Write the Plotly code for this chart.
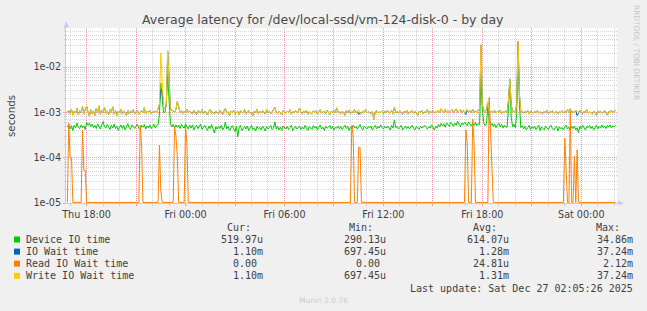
import pandas as pd
import plotly.graph_objects as go

TITLE = "Average latency for /dev/local-ssd/vm-124-disk-0 - by day"
Y_TITLE = "seconds"
SIDE_TEXT = "RRDTOOL / TOBI OETIKER"
FOOTER = "Munin 2.0.76"
LAST_UPDATE = "Last update: Sat Dec 27 02:05:26 2025"

# 5-minute samples starting at START (values in microseconds)
START = "2025-12-25 16:50"
STEP = "5min"

DEVICE_IO_US = [
    470, 540, 430, 510, 400, 520, 455, 580, 470, 440,
    530, 460, 510, 420, 600, 520, 580, 490, 550, 460,
    520, 440, 560, 470, 430, 530, 630, 480, 450, 540,
    470, 420, 520, 450, 550, 440, 500, 400, 470, 530,
    440, 520, 410, 490, 560, 450, 420, 530, 470, 440,
    500, 550, 450, 410, 520, 470, 540, 430, 500, 450,
    530, 440, 490, 550, 450, 510, 530, 900, 4450, 2000,
    1000, 1000, 1500, 6600, 1500, 560, 480, 540, 450, 530,
    470, 520, 440, 550, 480, 450, 560, 470, 430, 520,
    450, 530, 410, 480, 520, 440, 500, 550, 420, 480,
    520, 450, 400, 500, 440, 540, 450, 350, 480, 430,
    500, 440, 520, 410, 460, 610, 430, 490, 400, 460,
    510, 440, 380, 490, 290, 460, 520, 400, 450, 490,
    430, 500, 400, 470, 520, 420, 450, 390, 490, 440,
    470, 410, 500, 450, 390, 490, 430, 470, 520, 420,
    450, 620, 430, 490, 410, 470, 400, 500, 450, 430,
    490, 420, 470, 520, 400, 450, 490, 430, 470, 500,
    420, 470, 430, 520, 450, 400, 490, 460, 420, 510,
    450, 490, 410, 470, 530, 430, 470, 400, 490, 450,
    470, 520, 430, 490, 410, 470, 450, 500, 430, 490,
    420, 470, 520, 440, 490, 400, 470, 430, 520, 450,
    490, 430, 470, 540, 450, 410, 500, 460, 430, 490,
    450, 500, 410, 470, 520, 430, 490, 450, 530, 460,
    430, 490, 450, 500, 460, 410, 520, 450, 680, 460,
    490, 430, 470, 520, 410, 470, 500, 440, 490, 430,
    470, 520, 440, 410, 490, 460, 420, 500, 450, 490,
    520, 460, 430, 490, 450, 530, 460, 410, 490, 450,
    540, 480, 570, 500, 560, 470, 590, 520, 490, 600,
    560, 490, 580, 520, 640, 550, 490, 580, 530, 610,
    570, 510, 620, 540, 500, 580, 520, 600, 510, 560,
    540, 5700, 1200, 600, 510, 570, 1300, 700, 510, 570,
    490, 550, 460, 530, 580, 480, 550, 450, 520, 480,
    470, 1200, 4800, 800, 480, 550, 460, 900, 34860, 1500,
    460, 510, 430, 490, 410, 460, 520, 420, 480, 440,
    500, 420, 460, 520, 400, 480, 440, 410, 500, 450,
    420, 480, 520, 440, 410, 460, 500, 390, 480, 440,
    460, 410, 490, 520, 430, 470, 400, 490, 440, 500,
    410, 460, 360, 490, 430, 520, 450, 410, 490, 460,
    520, 440, 490, 410, 460, 520, 430, 490, 450, 530,
    460, 500, 440, 520, 470, 530, 450, 510, 480, 520,
]

IO_WAIT_US = [
    1000, 1120, 920, 1180, 870, 1060, 970, 1230, 880, 1090,
    1000, 1350, 930, 1120, 1380, 1030, 830, 1150, 940, 1080,
    860, 1220, 1000, 1400, 910, 1120, 1000, 1280, 960, 1080,
    890, 1150, 1000, 1330, 940, 1090, 850, 1060, 980, 1180,
    920, 1080, 1000, 850, 1120, 940, 1060, 1000, 1150, 920,
    1030, 1120, 900, 1000, 1090, 970, 1280, 920, 1060, 1000,
    1120, 940, 1030, 1000, 1080, 970, 1150, 1500, 3200, 3000,
    1300, 1200, 1500, 22800, 6000, 1200, 1100, 1080, 1000, 1150,
    1750, 1200, 1000, 1090, 940, 1060, 1000, 1180, 970, 1080,
    1000, 920, 1120, 1030, 900, 1090, 1000, 970, 1150, 940,
    1060, 1000, 880, 1090, 1150, 970, 1030, 920, 1060, 1000,
    940, 1120, 1000, 900, 1090, 1220, 970, 1030, 860, 1080,
    1000, 1120, 940, 1000, 1060, 880, 1090, 1000, 970, 1150,
    920, 1030, 1090, 970, 1000, 840, 1060, 1000, 1180, 940,
    1050, 970, 1090, 1000, 920, 1150, 1000, 1060, 940, 1030,
    1120, 1280, 1000, 940, 1060, 1000, 880, 1090, 1000, 970,
    1060, 1000, 1150, 920, 1030, 1000, 1090, 970, 1060, 1250,
    1000, 940, 1060, 1000, 1120, 910, 1030, 1000, 940, 1080,
    1000, 1090, 920, 1030, 1150, 970, 1000, 1060, 940, 1120,
    1000, 910, 1060, 1000, 1090, 970, 1260, 1000, 1030, 940,
    1060, 1000, 860, 1090, 1000, 1120, 940, 1030, 1000, 1150,
    970, 1060, 900, 1000, 940, 1080, 1000, 1150, 970, 1030,
    1000, 940, 1060, 700, 1000, 1090, 970, 1030, 1000, 1080,
    940, 1060, 1000, 1120, 970, 1000, 1090, 940, 1280, 1000,
    1030, 970, 1090, 1000, 910, 1060, 1000, 1120, 940, 1030,
    1000, 1090, 970, 1030, 1000, 860, 1060, 1000, 1120, 940,
    1030, 1000, 1150, 940, 1060, 1000, 1090, 970, 1030, 1000,
    1120, 1000, 1200, 1060, 1000, 1150, 970, 1090, 1000, 1060,
    1150, 1000, 1090, 1200, 1000, 1060, 1150, 970, 1090, 1000,
    900, 1150, 1000, 1090, 1000, 1180, 1000, 1080, 970, 1150,
    1100, 31000, 1500, 1080, 1000, 1200, 1700, 1120, 1000, 1080,
    1000, 1090, 970, 1060, 1000, 1120, 940, 1030, 1000, 1080,
    1000, 1800, 5500, 1500, 1000, 1080, 970, 1500, 37240, 2500,
    1000, 1080, 970, 1030, 1000, 1090, 940, 1060, 1000, 970,
    1060, 1000, 1090, 970, 1030, 1000, 940, 1060, 1000, 1120,
    940, 1030, 1000, 1090, 970, 1000, 1060, 940, 1030, 1000,
    1090, 970, 1060, 1000, 1150, 1000, 1200, 970, 1060, 1000,
    1090, 850, 1000, 1120, 1000, 940, 1060, 1000, 1150, 970,
    1030, 1000, 940, 1060, 1000, 860, 1090, 1000, 1060, 970,
    1000, 1090, 1000, 870, 1060, 970, 1120, 1000, 1080, 1100,
]

WRITE_WAIT_US = [
    1000, 1120, 920, 1180, 870, 1060, 970, 1230, 880, 1090,
    1000, 1350, 930, 1120, 1380, 1030, 830, 1150, 940, 1080,
    860, 1220, 1000, 1400, 910, 1120, 1000, 1280, 960, 1080,
    890, 1150, 1000, 1330, 940, 1090, 850, 1060, 980, 1180,
    920, 1080, 1000, 850, 1120, 940, 1060, 1000, 1150, 920,
    1030, 1120, 900, 1000, 1090, 970, 1280, 920, 1060, 1000,
    1120, 940, 1030, 1000, 1080, 970, 1150, 1500, 20500, 4000,
    1300, 1200, 1500, 22800, 6000, 1200, 1100, 1080, 1000, 1150,
    1750, 1200, 1000, 1090, 940, 1060, 1000, 1180, 970, 1080,
    1000, 920, 1120, 1030, 900, 1090, 1000, 970, 1150, 940,
    1060, 1000, 880, 1090, 1150, 970, 1030, 920, 1060, 1000,
    940, 1120, 1000, 900, 1090, 1220, 970, 1030, 860, 1080,
    1000, 1120, 940, 1000, 1060, 880, 1090, 1000, 970, 1150,
    920, 1030, 1090, 970, 1000, 840, 1060, 1000, 1180, 940,
    1050, 970, 1090, 1000, 920, 1150, 1000, 1060, 940, 1030,
    1120, 1280, 1000, 940, 1060, 1000, 880, 1090, 1000, 970,
    1060, 1000, 1150, 920, 1030, 1000, 1090, 970, 1060, 1250,
    1000, 940, 1060, 1000, 1120, 910, 1030, 1000, 940, 1080,
    1000, 1090, 920, 1030, 1150, 970, 1000, 1060, 940, 1120,
    1000, 910, 1060, 1000, 1090, 970, 1260, 1000, 1030, 940,
    1060, 1000, 860, 1090, 1000, 1120, 940, 1030, 1000, 1150,
    970, 1060, 1150, 1000, 940, 1080, 1000, 1150, 970, 1030,
    1000, 940, 1060, 700, 1000, 1090, 970, 1030, 1000, 1080,
    940, 1060, 1000, 1120, 970, 1000, 1090, 940, 1280, 1000,
    1030, 970, 1090, 1000, 910, 1060, 1000, 1120, 940, 1030,
    1000, 1090, 970, 1030, 1000, 860, 1060, 1000, 1120, 940,
    1030, 1000, 1150, 940, 1060, 1000, 1090, 970, 1030, 1000,
    1120, 1000, 1200, 1060, 1000, 1150, 970, 1090, 1000, 1060,
    1150, 1000, 1090, 1200, 1000, 1060, 1150, 970, 1090, 1000,
    1060, 1150, 1000, 1090, 1000, 1180, 1000, 1080, 970, 1150,
    1100, 31000, 1500, 1080, 1000, 1200, 1700, 1120, 1000, 1080,
    1000, 1090, 970, 1060, 1000, 1120, 940, 1030, 1000, 1080,
    1000, 1800, 5500, 1500, 1000, 1080, 970, 1500, 37240, 2500,
    1000, 1080, 970, 1030, 1000, 1090, 940, 1060, 1000, 970,
    1060, 1000, 1090, 970, 1030, 1000, 940, 1060, 1000, 1120,
    940, 1030, 1000, 1090, 970, 1000, 1060, 940, 1030, 1000,
    1090, 970, 1060, 1000, 1150, 1000, 1200, 970, 1060, 1000,
    1090, 1080, 1000, 1120, 1000, 940, 1060, 1000, 1150, 970,
    1030, 1000, 940, 1060, 1000, 860, 1090, 1000, 1060, 970,
    1000, 1090, 1000, 870, 1060, 970, 1120, 1000, 1080, 1100,
]

# Read IO wait: 0.00 at every 5-minute sample except these spikes
READ_SPIKE_TIMES = [
    "2025-12-25 16:55", "2025-12-25 17:00", "2025-12-25 17:05",
    "2025-12-25 17:45", "2025-12-25 17:50", "2025-12-25 17:55",
    "2025-12-25 21:15", "2025-12-25 21:20",
    "2025-12-25 22:25", "2025-12-25 22:30",
    "2025-12-25 23:20", "2025-12-25 23:25", "2025-12-25 23:30",
    "2025-12-26 00:00", "2025-12-26 00:05",
    "2025-12-26 10:05", "2025-12-26 10:10",
    "2025-12-26 10:30", "2025-12-26 10:35",
    "2025-12-26 17:00", "2025-12-26 17:05",
    "2025-12-26 17:25", "2025-12-26 17:30",
    "2025-12-26 18:25", "2025-12-26 18:30", "2025-12-26 18:35",
    "2025-12-26 23:00", "2025-12-26 23:05",
    "2025-12-26 23:20",
    "2025-12-26 23:35",
    "2025-12-26 23:45",
]
READ_SPIKE_US = [
    580, 100, 100,
    410, 53, 53,
    520, 200,
    190, 19,
    480, 300, 110,
    520, 200,
    520, 300,
    170, 170,
    410, 200,
    710, 200,
    2120, 350, 100,
    270, 50,
    1100,
    110,
    150,
]

SERIES_NAMES = ["Device IO time", "IO Wait time", "Read IO Wait time", "Write IO Wait time"]
SERIES_COLORS = ["#00CC00", "#0066B3", "#FF8000", "#FFCC00"]
STAT_HEADERS = ["Cur:", "Min:", "Avg:", "Max:"]
STATS = [
    ["519.97u", "290.13u", "614.07u", "34.86m"],
    ["1.10m", "697.45u", "1.28m", "37.24m"],
    ["0.00", "0.00", "24.81u", "2.12m"],
    ["1.10m", "697.45u", "1.31m", "37.24m"],
]

Y_TICK_VALS = [1e-5, 1e-4, 1e-3, 1e-2]
Y_TICK_TEXT = ["1e-05", "1e-04", "1e-03", "1e-02"]
Y_MINOR_VALS = [m * 10.0 ** e for e in (-5, -4, -3, -2) for m in range(2, 10)]

X_RANGE = ["2025-12-25 16:45", "2025-12-27 02:10"]
X_MAJOR_VALS = pd.date_range("2025-12-25 18:00", "2025-12-27 00:00", freq="3h")
X_LABELS = {
    "2025-12-25 18:00": "Thu 18:00",
    "2025-12-26 00:00": "Fri 00:00",
    "2025-12-26 06:00": "Fri 06:00",
    "2025-12-26 12:00": "Fri 12:00",
    "2025-12-26 18:00": "Fri 18:00",
    "2025-12-27 00:00": "Sat 00:00",
}

# ---------------------------------------------------------------- build
assert len(DEVICE_IO_US) == len(IO_WAIT_US) == len(WRITE_WAIT_US) == 400
xs = pd.date_range(START, periods=len(DEVICE_IO_US), freq=STEP)
read_map = {pd.Timestamp(t): v for t, v in zip(READ_SPIKE_TIMES, READ_SPIKE_US)}
read_us = [read_map.get(t, 0) for t in xs]

Y_FLOOR = 1.03e-5  # zero values are drawn on the bottom edge, like rrdtool
def sec(vals):
    return [max(v * 1e-6, Y_FLOOR) for v in vals]

fig = go.Figure()
for ys, name, color in zip([DEVICE_IO_US, IO_WAIT_US, read_us, WRITE_WAIT_US],
                           SERIES_NAMES, SERIES_COLORS):
    fig.add_trace(go.Scatter(
        x=xs, y=sec(ys), mode="lines", name=name,
        line=dict(color=color, width=1), hoverinfo="skip", showlegend=False,
    ))

W, H = 647, 311
PL, PR, PT, PB = 66, 617, 28, 203
def px(x):
    return (x - PL) / (PR - PL)
def py(y):
    return (PB - y) / (PB - PT)

TXT = "#404040"
MAJOR_GRID = "rgba(230,140,140,0.75)"
MINOR_GRID = "rgba(200,200,200,0.75)"
AXIS_COL = "#C8C8F0"

fig.update_layout(
    width=W, height=H, autosize=False,
    margin=dict(l=PL, r=W - PR, t=PT, b=H - PB, pad=0),
    paper_bgcolor="#F0F0F0", plot_bgcolor="#FFFFFF",
    font=dict(family="DejaVu Sans", color=TXT, size=10),
    showlegend=False,
)
fig.update_xaxes(
    type="date", range=X_RANGE,
    tickmode="array", tickvals=list(X_MAJOR_VALS),
    ticktext=[X_LABELS.get(t.strftime("%Y-%m-%d %H:%M"), "") for t in X_MAJOR_VALS],
    tickfont=dict(size=9.6, color=TXT, family="DejaVu Sans"),
    ticks="outside", ticklen=2, tickcolor=MAJOR_GRID,
    showgrid=True, gridcolor=MAJOR_GRID, griddash="1px,1px", gridwidth=1,
    minor=dict(dtick=3600000, tick0="2025-12-25 00:00", showgrid=True,
               gridcolor=MINOR_GRID, griddash="1px,1px", gridwidth=1,
               ticks="outside", ticklen=2, tickcolor=MINOR_GRID),
    showline=True, linecolor=AXIS_COL, linewidth=1, zeroline=False,
    fixedrange=True,
)
fig.update_yaxes(
    type="log", range=[-5, -5 + (PB - PT) / 45.3],
    tickmode="array", tickvals=Y_TICK_VALS, ticktext=Y_TICK_TEXT,
    tickfont=dict(size=9.6, color=TXT, family="DejaVu Sans"),
    ticks="outside", ticklen=2, tickcolor=MAJOR_GRID,
    showgrid=True, gridcolor=MAJOR_GRID, griddash="1px,1px", gridwidth=1,
    minor=dict(tickmode="array", tickvals=Y_MINOR_VALS, showgrid=True,
               gridcolor=MINOR_GRID, griddash="1px,1px", gridwidth=1,
               ticks="outside", ticklen=1, tickcolor=MINOR_GRID),
    showline=True, linecolor=AXIS_COL, linewidth=1, zeroline=False,
    fixedrange=True,
)

ann = []
def text(x, y, s, size=10, color=TXT, family="DejaVu Sans", anchor="left", angle=0):
    ann.append(dict(
        x=px(x), y=py(y), xref="paper", yref="paper", text=s, showarrow=False,
        xanchor=anchor, yanchor="middle", textangle=angle,
        font=dict(size=size, color=color, family=family),
        borderpad=0, borderwidth=0,
    ))

text(322.8, 19, TITLE, size=12.5, color="#4a4a4a", anchor="center")
text(11, 116, Y_TITLE, size=10.3, color=TXT, anchor="center", angle=-90)
text(637, 52, SIDE_TEXT, size=7.4, color="#C4C4C4", anchor="center", angle=90)
text(323, 300, FOOTER, size=7.5, color="#CCCCCC", anchor="center")

MONO = "DejaVu Sans Mono"
VAL_RIGHT = [263.3, 385.7, 509.0, 633.3]
HEAD_RIGHT = [250.7, 373.3, 497.3, 620.0]
for h, xr in zip(STAT_HEADERS, HEAD_RIGHT):
    text(xr, 227.3, h, family=MONO, anchor="right")
ROW_Y = [239.5, 251.6, 263.7, 275.8]
shapes = []
for name, color, stats, yr in zip(SERIES_NAMES, SERIES_COLORS, STATS, ROW_Y):
    shapes.append(dict(type="rect", xref="paper", yref="paper",
                       x0=px(14), x1=px(20), y0=py(yr + 3), y1=py(yr - 3),
                       fillcolor=color, line=dict(width=0)))
    text(26, yr, name, family=MONO)
    for s, xr in zip(stats, VAL_RIGHT):
        if s[-1].isdigit():
            s = s + "\u00a0"
        text(xr, yr, s, family=MONO, anchor="right")
text(633.3, 288.2, LAST_UPDATE, family=MONO, anchor="right")

# axis arrows
ARROW = "#C8C8F8"
shapes.append(dict(type="path", xref="paper", yref="paper",
                   path=f"M {px(63.5)},{py(27.5)} L {px(69)},{py(27.5)} L {px(66.2)},{py(21.5)} Z",
                   fillcolor=ARROW, line=dict(width=0)))
shapes.append(dict(type="path", xref="paper", yref="paper",
                   path=f"M {px(618.5)},{py(200.3)} L {px(618.5)},{py(205.7)} L {px(623.8)},{py(203)} Z",
                   fillcolor=ARROW, line=dict(width=0)))
shapes.append(dict(type="line", xref="paper", yref="paper",
                   x0=px(617), x1=px(619), y0=0, y1=0, line=dict(color=AXIS_COL, width=1)))

fig.update_layout(annotations=ann, shapes=shapes)
fig.write_html("out.html", config={"displayModeBar": False, "staticPlot": True})
